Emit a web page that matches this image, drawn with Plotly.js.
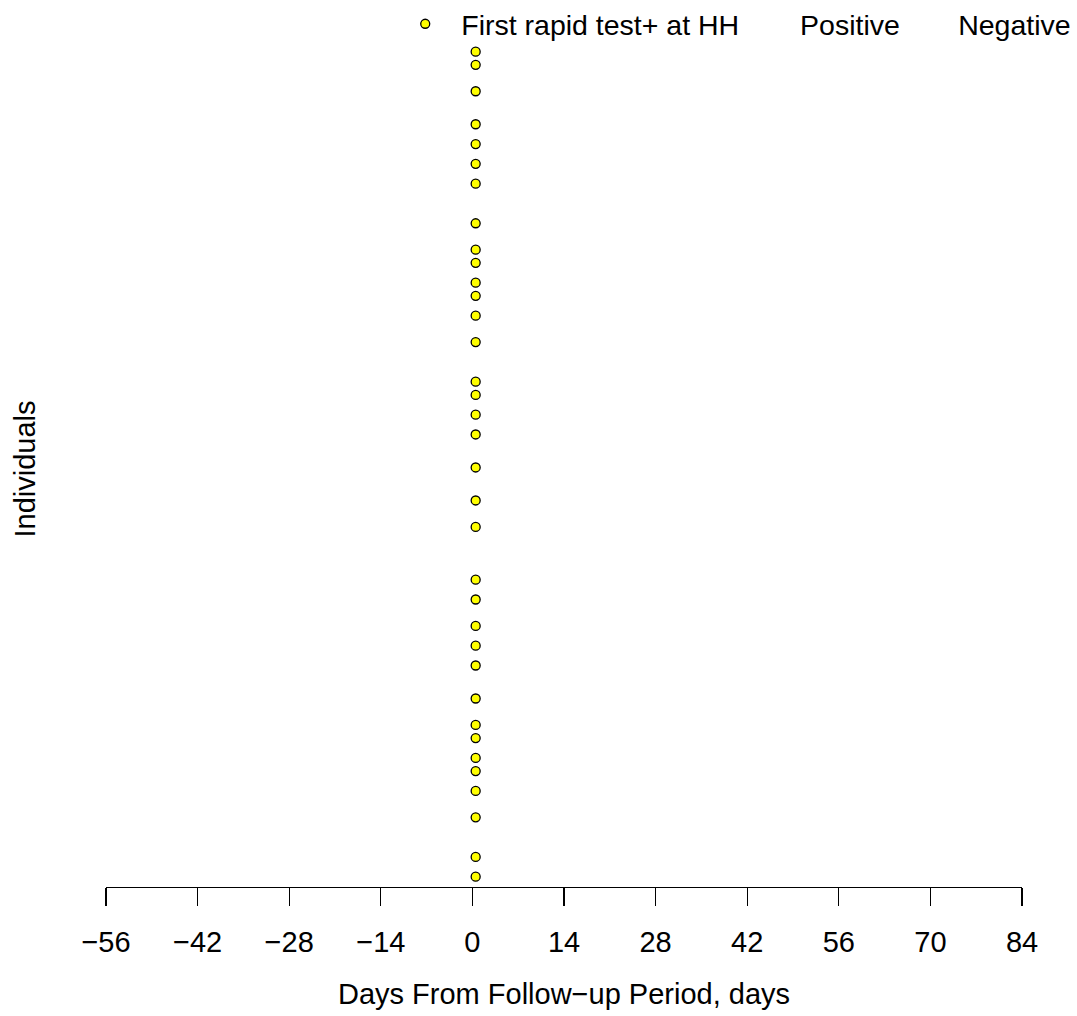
<!DOCTYPE html>
<html>
<head>
<meta charset="utf-8">
<script src="https://cdn.plot.ly/plotly-3.0.1.min.js"></script>
<style>
  html, body { margin: 0; padding: 0; background: #ffffff; }
  #chart { width: 1077px; height: 1016px; }
</style>
</head>
<body>
<div id="chart"></div>
<script>
// Individuals (row index) with a first rapid test+ at the household
var individuals = [1, 4, 10, 14, 17, 19, 22, 24, 28, 33, 36, 39, 43, 46, 54, 58, 63, 68, 71, 74, 76,
                   82, 86, 89, 91, 94, 96, 100, 106, 109, 112, 115, 120, 124, 126];
// Day of first rapid test+ relative to follow-up period
var firstPosDays = [0.5, 0.5, 0.5, 0.5, 0.5, 0.5, 0.5, 0.5, 0.5, 0.5, 0.5, 0.5, 0.5, 0.5, 0.5, 0.5, 0.5, 0.5,
                    0.5, 0.5, 0.5, 0.5, 0.5, 0.5, 0.5, 0.5, 0.5, 0.5, 0.5, 0.5, 0.5, 0.5, 0.5, 0.5, 0.5];
// Positive / Negative series (no marks visible in the chart)
var positiveDays = [null];
var positiveIds = [null];
var negativeDays = [null];
var negativeIds = [null];
// Axis ticks
var xTickVals = [-56, -42, -28, -14, 0, 14, 28, 42, 56, 70, 84];
var seriesNames = ["First rapid test+ at HH", "Positive", "Negative"];

var FONT = "Liberation Sans, Arial, Helvetica, sans-serif";

var traces = [
  {
    type: "scatter", mode: "markers",
    x: firstPosDays, y: individuals,
    name: seriesNames[0],
    legend: "legend",
    cliponaxis: false,
    marker: { symbol: "circle", size: 9, color: "#FFFF00", line: { color: "#000000", width: 1.3 } },
    hoverinfo: "x+y"
  },
  {
    type: "scatter", mode: "markers",
    x: positiveDays, y: positiveIds,
    name: seriesNames[1],
    legend: "legend2",
    showlegend: true,
    marker: { size: 9, color: "rgba(0,0,0,0)", line: { width: 0 } }
  },
  {
    type: "scatter", mode: "markers",
    x: negativeDays, y: negativeIds,
    name: seriesNames[2],
    legend: "legend3",
    showlegend: true,
    marker: { size: 9, color: "rgba(0,0,0,0)", line: { width: 0 } }
  }
];

var legendBase = {
  orientation: "h",
  xanchor: "left", yanchor: "middle",
  y: 1.032,
  bgcolor: "rgba(0,0,0,0)",
  borderwidth: 0,
  font: { family: FONT, size: 28.5, color: "#000000" }
};

var layout = {
  width: 1077, height: 1016,
  paper_bgcolor: "#ffffff", plot_bgcolor: "#ffffff",
  font: { family: FONT, size: 29, color: "#000000" },
  margin: { l: 105.7, r: 55, t: 51, b: 129, pad: 0, autoexpand: false },
  showlegend: true,
  legend: Object.assign({}, legendBase, { x: 0.3092, itemwidth: 62 }),
  legend2: Object.assign({}, legendBase, { x: 0.714 }),
  legend3: Object.assign({}, legendBase, { x: 0.8866 }),
  xaxis: {
    range: [-56, 84],
    tickmode: "array", tickvals: xTickVals,
    ticks: "outside", ticklen: 18, tickwidth: 1.3, tickcolor: "#000000",
    ticklabelstandoff: 11,
    showline: true, linewidth: 1.3, linecolor: "#000000",
    showgrid: false, zeroline: false,
    tickfont: { family: FONT, size: 29, color: "#000000" },
    title: { text: "Days From Follow\u2212up Period, days", font: { family: FONT, size: 29, color: "#000000" }, standoff: 26 },
    automargin: false
  },
  yaxis: {
    range: [-0.56, 126.1],
    showticklabels: false, ticks: "", showline: false, showgrid: false, zeroline: false,
    title: { text: "Individuals", font: { family: FONT, size: 29, color: "#000000" }, standoff: 60 },
    automargin: false
  }
};

Plotly.newPlot("chart", traces, layout, { displayModeBar: false, staticPlot: true });
</script>
</body>
</html>
